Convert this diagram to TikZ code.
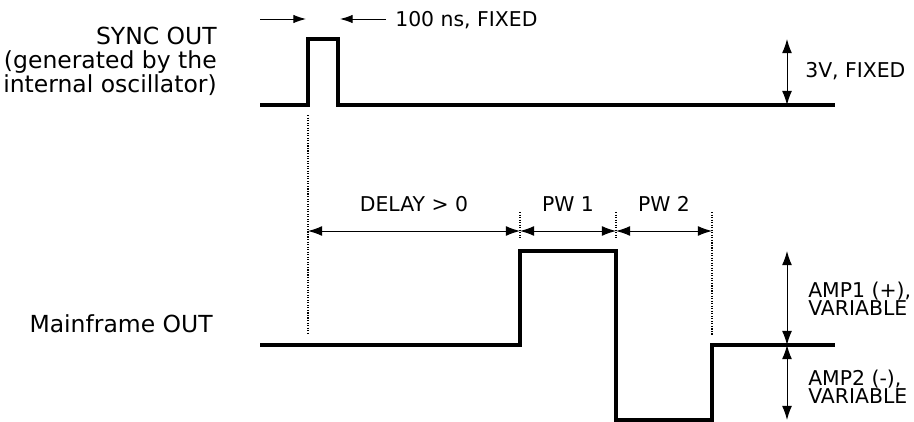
\documentclass[tikz,border=0pt]{standalone}
\usepackage{fontspec}
\setmainfont{DejaVu Sans}
\usetikzlibrary{arrows.meta}

\tikzset{
  wave/.style={line width=2.3pt, line join=miter},
  dimline/.style={{Latex[length=10pt,width=7pt]}-{Latex[length=10pt,width=7pt]}, line width=0.7pt},
  tipline/.style={-{Latex[length=9pt,width=6pt]}, line width=0.7pt},
  guide/.style={densely dotted, line width=0.8pt},
  lbl/.style={font=\fontsize{14.5}{12}\selectfont, inner sep=0pt},
  siglbl/.style={font=\fontsize{16.7}{17}\selectfont, inner sep=0pt, align=right},
}

\begin{document}
\begin{tikzpicture}[x=0.025cm,y=-0.025cm]

  \useasboundingbox (0,0) rectangle (914,421);

  % signal names
  \node[siglbl,anchor=base east] (syncname) at (217,92)
       {SYNC OUT\\(generated by the\\internal oscillator)};
  \node[siglbl,anchor=base east] (mainname) at (213,332) {Mainframe OUT};

  % SYNC OUT waveform
  \draw[wave] (260,105) -- (308,105) -- (308,39) -- (338,39) -- (338,105) -- (835,105);

  % 100 ns pulse width
  \draw[tipline] (260,19) -- (306,19);
  \draw[tipline] (386,19) -- (340,19);
  \node[lbl,anchor=base west] (pulselbl) at (395,26) {100 ns, FIXED};

  % 3V amplitude
  \draw[dimline] (787,39) -- (787,105);
  \node[lbl,anchor=base west] (synclvl) at (805,77) {3V, FIXED};

  % guide lines
  \draw[guide] (308,115) -- (308,335);
  \draw[guide] (520,212) -- (520,238);
  \draw[guide] (616,212) -- (616,238);
  \draw[guide] (712,212) -- (712,335);

  % delay and pulse widths
  \draw[dimline] (308,231) -- (520,231) node[lbl,midway,above=14pt,anchor=base] {DELAY > 0};
  \draw[dimline] (520,231) -- (616,231) node[lbl,midway,above=14pt,anchor=base] {PW 1};
  \draw[dimline] (616,231) -- (712,231) node[lbl,midway,above=14pt,anchor=base] {PW 2};

  % Mainframe OUT waveform
  \draw[wave] (260,345) -- (520,345) -- (520,251) -- (616,251) -- (616,420)
              -- (712,420) -- (712,345) -- (835,345);

  % amplitudes
  \draw[dimline] (787,251) -- (787,345);
  \draw[dimline] (787,345) -- (787,420);
  \node[lbl,anchor=base west,align=left] (amp1) at (808,315) {AMP1 (+),\\[-1.2pt]VARIABLE};
  \node[lbl,anchor=base west,align=left] (amp2) at (808,403) {AMP2 (-),\\[-1.2pt]VARIABLE};

\end{tikzpicture}
\end{document}
